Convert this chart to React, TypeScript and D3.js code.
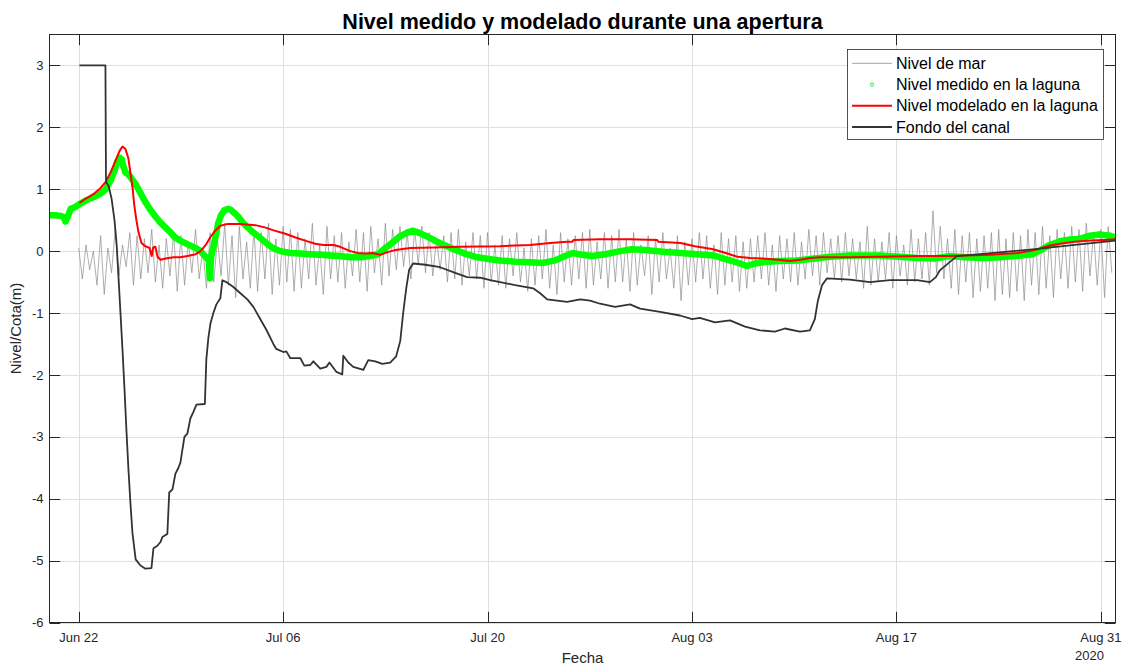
import React from "react";
import * as d3 from "d3";

// ---------------- DATA ----------------
// time origin of the axis (day 0 = 2020-06-20 00:00)
const START = new Date(2020, 5, 20);
const X_END_DAY = 73.0;

const xTickDates = ["2020-06-22", "2020-07-06", "2020-07-20", "2020-08-03", "2020-08-17", "2020-08-31"];
const yTicks = [-6, -5, -4, -3, -2, -1, 0, 1, 2, 3];
const yDomain = [-6, 3.5];

// Sea level, sampled every 6 h starting 2020-06-22 00:00 (4 values per day)
const seaLevelStartDay = 2;
const seaLevelStepDays = 0.25;
const seaLevel = [
  0.05, -0.45, 0.1, -0.3, // Jun22
  0.0, -0.55, 0.25, -0.7,
  0.05, -0.35, 0.35, -0.4,
  0.1, -0.25, 0.3, -0.55,
  0.25, -0.45, 0.2, -0.35,
  0.35, -0.5, 0.1, -0.6,
  0.2, -0.4, 0.3, -0.65,
  0.25, -0.55, 0.15, -0.35,
  0.35, -0.45, 0.05, -0.6, // Jun30
  0.3, -0.5, 0.2, -0.4,
  0.45, -0.55, 0.25, -0.75,
  0.4, -0.45, 0.15, -0.6,
  0.35, -0.65, 0.3, -0.45,
  0.45, -0.7, 0.2, -0.55,
  0.4, -0.5, 0.35, -0.65, // Jul06
  0.3, -0.6, 0.2, -0.45,
  0.45, -0.55, 0.1, -0.7,
  0.4, -0.45, 0.25, -0.5,
  0.3, -0.6, 0.15, -0.4,
  0.35, -0.5, 0.3, -0.65,
  0.4, -0.35, 0.2, -0.55,
  0.45, -0.4, 0.35, -0.3,
  0.4, -0.25, 0.3, -0.45,
  0.35, -0.2, 0.4, -0.35,
  0.3, -0.4, 0.2, -0.3,
  0.25, -0.5, 0.3, -0.45,
  0.35, -0.55, 0.15, -0.4,
  0.3, -0.45, 0.25, -0.6,
  0.3, -0.5, 0.1, -0.55, // Jul20
  0.25, -0.6, 0.2, -0.4,
  0.3, -0.5, 0.05, -0.65,
  0.2, -0.55, 0.25, -0.45,
  0.35, -0.6, 0.1, -0.7,
  0.3, -0.5, 0.2, -0.55,
  0.25, -0.45, 0.3, -0.6,
  0.35, -0.55, 0.15, -0.45,
  0.3, -0.6, 0.25, -0.5,
  0.35, -0.5, 0.2, -0.65,
  0.3, -0.55, 0.1, -0.4,
  0.25, -0.7, 0.2, -0.5,
  0.3, -0.45, 0.05, -0.6,
  0.25, -0.8, 0.15, -0.55,
  0.2, -0.5, 0.3, -0.45, // Aug03
  0.25, -0.6, 0.1, -0.7,
  0.3, -0.55, 0.2, -0.5,
  0.25, -0.65, 0.15, -0.6,
  0.2, -0.5, 0.25, -0.45,
  0.3, -0.55, 0.1, -0.65,
  0.25, -0.45, 0.2, -0.5,
  0.3, -0.55, 0.15, -0.45,
  0.35, -0.4, 0.25, -0.55,
  0.3, -0.35, 0.2, -0.45,
  0.25, -0.5, 0.3, -0.4,
  0.2, -0.45, 0.15, -0.6,
  0.4, -0.55, 0.2, -0.5,
  0.15, -0.45, 0.3, -0.6,
  0.25, -0.4, 0.1, -0.55, // Aug17
  0.35, -0.5, 0.2, -0.45,
  0.3, -0.55, 0.65, -0.35,
  0.4, -0.45, 0.2, -0.6,
  0.35, -0.7, 0.25, -0.5,
  0.3, -0.75, 0.2, -0.65,
  0.25, -0.6, 0.3, -0.8,
  0.35, -0.7, 0.2, -0.75,
  0.3, -0.65, 0.25, -0.8,
  0.35, -0.55, 0.3, -0.7,
  0.4, -0.6, 0.25, -0.75,
  0.35, -0.45, 0.3, -0.6,
  0.4, -0.5, 0.35, -0.65,
  0.45, -0.4, 0.3, -0.55,
  0.35, -0.75, 0.4, -0.35, // Aug31
];

// Measured lagoon level [day, m]
const measured: [number, number][] = [
  [0.0, 0.58], [0.4, 0.58], [0.75, 0.57], [0.95, 0.55], [1.1, 0.48], [1.25, 0.56], [1.45, 0.68],
  [1.8, 0.72], [2.05, 0.76], [2.5, 0.82], [3.0, 0.87], [3.5, 0.93], [3.85, 1.0], [4.2, 1.15],
  [4.45, 1.3], [4.65, 1.45], [4.8, 1.51], [4.95, 1.48], [5.05, 1.38], [5.2, 1.27], [5.4, 1.24],
  [5.6, 1.18], [5.9, 1.08], [6.25, 0.93], [6.55, 0.8], [6.9, 0.67], [7.25, 0.56], [7.6, 0.46],
  [7.95, 0.38], [8.3, 0.3], [8.6, 0.22], [8.95, 0.17], [9.3, 0.13], [9.65, 0.09], [10.0, 0.05],
  [10.35, 0.0], [10.6, -0.07], [10.8, -0.12], [10.9, -0.1], [10.92, -0.2], [10.94, -0.3],
  [10.96, -0.38], [10.98, -0.44], [11.0, -0.35], [11.03, -0.25], [11.06, -0.12], [11.15, 0.0],
  [11.3, 0.15], [11.43, 0.3], [11.55, 0.45], [11.75, 0.58], [11.97, 0.66], [12.2, 0.68],
  [12.4, 0.67], [12.65, 0.62], [12.95, 0.55], [13.2, 0.47], [13.55, 0.39], [13.9, 0.31],
  [14.3, 0.24], [14.65, 0.17], [15.0, 0.1], [15.3, 0.05], [15.8, 0.0], [16.5, -0.03],
  [17.2, -0.04], [17.85, -0.05], [18.55, -0.06], [19.2, -0.07], [19.9, -0.08], [20.6, -0.1],
  [21.3, -0.1], [21.95, -0.08], [22.5, -0.05], [23.0, 0.05], [23.55, 0.15], [24.0, 0.24],
  [24.5, 0.3], [24.9, 0.33], [25.25, 0.3], [25.75, 0.25], [26.4, 0.17], [27.1, 0.09],
  [27.8, 0.02], [28.45, -0.04], [29.3, -0.1], [30.2, -0.13], [30.85, -0.15], [31.9, -0.17],
  [32.9, -0.18], [33.8, -0.19], [34.6, -0.15], [35.3, -0.08], [35.85, -0.03], [36.5, -0.06],
  [37.15, -0.08], [38.05, -0.05], [39.1, 0.0], [39.9, 0.03], [40.8, 0.02], [42.0, -0.01],
  [43.2, -0.03], [44.35, -0.05], [45.45, -0.07], [46.6, -0.15], [47.3, -0.2], [47.75, -0.24],
  [48.3, -0.2], [49.1, -0.17], [50.0, -0.16], [51.2, -0.15], [52.4, -0.12], [53.45, -0.09],
  [54.8, -0.07], [55.85, -0.07], [56.85, -0.07], [58.2, -0.09], [59.4, -0.11], [60.6, -0.12],
  [61.6, -0.08], [62.7, -0.1], [63.9, -0.11], [65.1, -0.1], [66.1, -0.08], [67.3, -0.05],
  [67.9, 0.02], [68.5, 0.1], [69.2, 0.16], [69.9, 0.19], [70.55, 0.2], [71.25, 0.25],
  [71.9, 0.27], [72.6, 0.25], [73.0, 0.22],
];

// Modelled lagoon level [day, m]
const modelled: [number, number][] = [
  [2.05, 0.78], [2.5, 0.85], [3.0, 0.92], [3.5, 1.02], [3.85, 1.12], [4.2, 1.28], [4.5, 1.45],
  [4.8, 1.62], [5.0, 1.69], [5.2, 1.65], [5.4, 1.5], [5.55, 1.25], [5.7, 1.0], [5.8, 0.75],
  [5.95, 0.5], [6.1, 0.3], [6.3, 0.13], [6.55, 0.08], [6.85, 0.05], [7.0, -0.08], [7.1, 0.06],
  [7.25, 0.07], [7.4, -0.09], [7.6, -0.14], [7.95, -0.12], [8.5, -0.1], [8.95, -0.1],
  [9.45, -0.08], [10.0, -0.05], [10.35, 0.0], [10.7, 0.1], [11.0, 0.22], [11.35, 0.33],
  [11.7, 0.41], [12.2, 0.44], [13.05, 0.44], [14.1, 0.42], [14.8, 0.38], [15.3, 0.34],
  [16.15, 0.28], [16.85, 0.22], [17.5, 0.17], [18.2, 0.12], [18.75, 0.1], [19.45, 0.1],
  [19.9, 0.07], [20.6, 0.0], [21.1, -0.03], [21.6, -0.04], [22.1, -0.03], [22.65, -0.06],
  [23.1, -0.02], [23.7, 0.02], [24.7, 0.05], [26.3, 0.06], [28.1, 0.07], [30.85, 0.08],
  [32.9, 0.1], [34.3, 0.13], [35.45, 0.15], [35.8, 0.15], [35.9, 0.18], [37.7, 0.19],
  [39.75, 0.19], [41.6, 0.18], [41.7, 0.15], [43.2, 0.13], [44.2, 0.08], [45.45, 0.03],
  [46.3, -0.03], [47.1, -0.09], [48.0, -0.11], [48.85, -0.12], [49.9, -0.14], [50.7, -0.16],
  [51.4, -0.14], [52.1, -0.11], [52.75, -0.1], [54.8, -0.1], [56.85, -0.09], [59.6, -0.08],
  [61.65, -0.08], [64.4, -0.06], [66.25, -0.03], [67.1, 0.0], [67.8, 0.04], [68.5, 0.09],
  [69.2, 0.12], [70.2, 0.15], [71.25, 0.17], [72.25, 0.18], [73.0, 0.19],
];

// Channel bottom [day, m]
const channelBottom: [number, number][] = [
  [2.05, 3.0], [3.83, 3.0], [3.87, 1.12], [4.05, 1.05], [4.25, 0.85], [4.45, 0.5], [4.6, 0.1],
  [4.72, -0.4], [4.86, -1.0], [5.0, -1.6], [5.13, -2.2], [5.27, -2.9], [5.4, -3.5], [5.55, -4.1],
  [5.68, -4.55], [5.9, -4.98], [6.23, -5.08], [6.57, -5.13], [6.98, -5.12], [7.12, -4.8],
  [7.39, -4.76], [7.6, -4.7], [7.73, -4.62], [8.07, -4.57], [8.2, -3.9], [8.42, -3.85],
  [8.62, -3.6], [8.83, -3.5], [8.96, -3.42], [9.24, -3.0], [9.44, -2.95], [9.65, -2.7],
  [9.85, -2.6], [10.06, -2.48], [10.64, -2.47], [10.74, -1.75], [10.88, -1.4], [11.02, -1.17],
  [11.22, -1.0], [11.43, -0.86], [11.7, -0.76], [11.84, -0.47], [12.11, -0.5], [12.59, -0.58],
  [13.07, -0.68], [13.55, -0.78], [13.96, -0.9], [14.44, -1.1], [14.85, -1.27], [15.33, -1.5],
  [15.53, -1.58], [16.01, -1.63], [16.22, -1.62], [16.49, -1.73], [17.18, -1.73], [17.45, -1.85],
  [17.86, -1.84], [18.07, -1.78], [18.54, -1.9], [18.96, -1.87], [19.17, -1.8], [19.64, -1.95],
  [20.05, -1.99], [20.12, -1.69], [20.46, -1.8], [20.8, -1.87], [21.49, -1.92], [21.83, -1.76],
  [22.31, -1.78], [22.79, -1.82], [23.33, -1.8], [23.74, -1.7], [24.02, -1.45], [24.22, -1.0],
  [24.43, -0.6], [24.63, -0.3], [24.9, -0.2], [25.73, -0.22], [26.75, -0.26], [27.78, -0.35],
  [28.6, -0.42], [29.49, -0.43], [30.18, -0.47], [30.86, -0.5], [31.89, -0.55], [33.12, -0.6],
  [33.6, -0.68], [34.08, -0.78], [34.76, -0.8], [35.45, -0.82], [36.34, -0.78], [37.02, -0.8],
  [37.7, -0.85], [38.73, -0.9], [39.76, -0.86], [40.44, -0.93], [41.81, -0.98], [43.18, -1.04],
  [44.0, -1.1], [44.54, -1.08], [45.57, -1.15], [46.6, -1.12], [47.63, -1.22], [48.65, -1.28],
  [49.68, -1.3], [50.36, -1.25], [51.39, -1.3], [52.07, -1.28], [52.41, -1.1], [52.62, -0.8],
  [52.9, -0.55], [53.24, -0.44], [54.81, -0.46], [56.18, -0.5], [57.55, -0.47], [59.4, -0.47],
  [60.29, -0.5], [60.7, -0.42], [60.97, -0.31], [61.38, -0.23], [61.79, -0.15], [62.13, -0.08],
  [65.07, -0.02], [67.33, 0.03], [70.2, 0.1], [73.0, 0.17],
];

const legendLabels = ["Nivel de mar", "Nivel medido en la laguna", "Nivel modelado en la laguna", "Fondo del canal"];

// ---------------- CHART ----------------
const W = 1133;
const H = 668;
const L = 49.5, R = 1115.5, T = 34.5, B = 622.5;
const FONT = "'Liberation Sans', Arial, Helvetica, sans-serif";
const AX = "#262626";

const dayToDate = (d: number) => new Date(START.getTime() + d * 86400000);

export default function App() {
  const x = d3.scaleTime().domain([START, dayToDate(X_END_DAY)]).range([L, R]);
  const y = d3.scaleLinear().domain(yDomain).range([B, T]);
  const parse = d3.timeParse("%Y-%m-%d");
  const xTicks = xTickDates.map((s) => parse(s) as Date);
  const fmt = d3.timeFormat("%b %d");

  const seaPts: [number, number][] = seaLevel.map((v, i) => [seaLevelStartDay + i * seaLevelStepDays, v]);
  const line = d3
    .line<[number, number]>()
    .x((p) => x(dayToDate(p[0])))
    .y((p) => y(p[1]));

  const tickLen = 10.7;
  const legendY = [63.3, 84.5, 105.7, 127];

  return (
    <svg
      width={W}
      height={H}
      style={{ position: "absolute", left: 0, top: 0, background: "#fff", fontFamily: FONT }}
    >
      <rect x={0} y={0} width={W} height={H} fill="#fff" />
      <defs>
        <clipPath id="plot">
          <rect x={L} y={T} width={R - L} height={B - T} />
        </clipPath>
      </defs>
      {/* grid */}
      <g stroke="#dfdfdf" strokeWidth={1}>
        {xTicks.map((d, i) => (
          <line key={"gx" + i} x1={Math.round(x(d)) + 0.5} x2={Math.round(x(d)) + 0.5} y1={T} y2={B} />
        ))}
        {yTicks.map((v) => (
          <line key={"gy" + v} x1={L} x2={R} y1={Math.round(y(v)) + 0.5} y2={Math.round(y(v)) + 0.5} />
        ))}
      </g>

      <g clipPath="url(#plot)">
        <path d={line(seaPts) || ""} fill="none" stroke="#8c8c8c" strokeWidth={0.7} />
        <path d={line(measured) || ""} fill="none" stroke="#00ff00" strokeWidth={6.5} strokeLinejoin="round" strokeLinecap="round" />
        {measured.map((p, i) => (
          <circle key={"m" + i} cx={x(dayToDate(p[0]))} cy={y(p[1])} r={2.3} fill="none" stroke="#00ff00" strokeWidth={1.3} />
        ))}
        <path d={line(modelled) || ""} fill="none" stroke="#ff0000" strokeWidth={2} strokeLinejoin="round" />
        <path d={line(channelBottom) || ""} fill="none" stroke="#333333" strokeWidth={1.8} strokeLinejoin="round" />
      </g>

      {/* axes box */}
      <rect x={L} y={T} width={R - L} height={B - T} fill="none" stroke={AX} strokeWidth={1} />
      <g stroke={AX} strokeWidth={1}>
        {xTicks.map((d, i) => {
          const px = Math.round(x(d)) + 0.5;
          return (
            <g key={"tx" + i}>
              <line x1={px} x2={px} y1={B} y2={B - tickLen} />
              <line x1={px} x2={px} y1={T} y2={T + tickLen} />
            </g>
          );
        })}
        {yTicks.map((v) => {
          const py = Math.round(y(v)) + 0.5;
          return (
            <g key={"ty" + v}>
              <line x1={L} x2={L + tickLen} y1={py} y2={py} />
              <line x1={R} x2={R - tickLen} y1={py} y2={py} />
            </g>
          );
        })}
      </g>
      <g fill={AX} fontSize={13}>
        {xTicks.map((d, i) => (
          <text key={"lx" + i} x={x(d)} y={642} textAnchor="middle">
            {fmt(d)}
          </text>
        ))}
        {yTicks.map((v) => (
          <text key={"ly" + v} x={43.5} y={y(v) + 4.6} textAnchor="end">
            {v}
          </text>
        ))}
        <text x={1104} y={660} textAnchor="end">
          2020
        </text>
      </g>

      {/* labels */}
      <text x={(L + R) / 2} y={663} textAnchor="middle" fontSize={15} fill={AX}>
        Fecha
      </text>
      <text
        transform={`translate(21, ${(T + B) / 2}) rotate(-90)`}
        textAnchor="middle"
        fontSize={15}
        fill={AX}
      >
        Nivel/Cota(m)
      </text>
      <text x={(L + R) / 2} y={29.3} textAnchor="middle" fontSize={21.5} fontWeight="bold" fill="#000">
        Nivel medido y modelado durante una apertura
      </text>

      {/* legend */}
      <g>
        <rect x={847.5} y={49.5} width={256} height={90} fill="#fff" stroke={AX} strokeWidth={0.8} />
        <line x1={852} x2={892} y1={legendY[0]} y2={legendY[0]} stroke="#8c8c8c" strokeWidth={0.8} />
        <circle cx={872} cy={legendY[1]} r={1.6} fill="none" stroke="#00ff00" strokeWidth={1} />
        <line x1={852} x2={892} y1={legendY[2]} y2={legendY[2]} stroke="#ff0000" strokeWidth={2} />
        <line x1={852} x2={892} y1={legendY[3]} y2={legendY[3]} stroke="#333333" strokeWidth={1.8} />
        {legendLabels.map((s, i) => (
          <text key={"lg" + i} x={896} y={legendY[i] + 5.6} fontSize={16} fill="#000">
            {s}
          </text>
        ))}
      </g>
    </svg>
  );
}
